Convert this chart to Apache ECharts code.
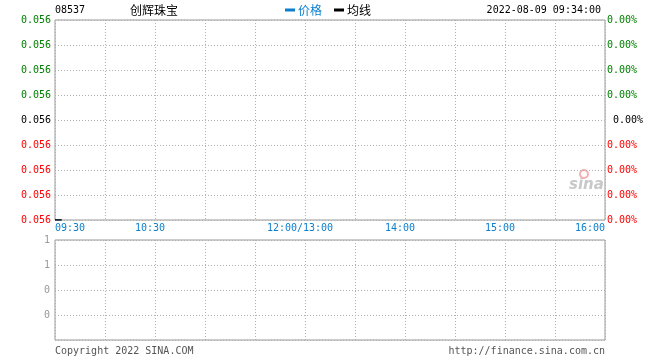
<!DOCTYPE html>
<html><head><meta charset="utf-8">
<script src="https://cdn.jsdelivr.net/npm/echarts@6/dist/echarts.min.js"></script>
<style>html,body{margin:0;padding:0;background:#fff}#c{width:660px;height:360px}</style>
</head><body><div id="c"></div>
<script>
// ---- data ----
const stockCode = '08537';
const stockName = '创辉珠宝';
const timestamp = '2022-08-09 09:34:00';
const minutes = [0, 1, 2, 3, 4];               // minutes since 09:30
const price = [0.056, 0.056, 0.056, 0.056, 0.056];
const avgPrice = [0.056, 0.056, 0.056, 0.056, 0.056];
const timeTicks = [0, 60, 150, 210, 270, 330];
const timeLabels = ['09:30', '10:30', '12:00/13:00', '14:00', '15:00', '16:00'];
const leftLabels = ['0.056','0.056','0.056','0.056','0.056','0.056','0.056','0.056','0.056']; // bottom -> top
const rightLabels = ['0.00%','0.00%','0.00%','0.00%',' 0.00%','0.00%','0.00%','0.00%','0.00%'];
const volLabels = ['', '0', '0', '1', '1']; // bottom -> top

const mono = 'DejaVu Sans Mono';
const grid = '#999', dot = '#b0b0b0';
function levelColor(i){ return i < 4 ? '#ff0000' : (i === 4 ? '#000000' : '#008000'); }

const chart = echarts.init(document.getElementById('c'));
chart.setOption({
  animation: false,
  backgroundColor: '#fff',
  title: [
    {text: stockCode, left: 55, top: 5, padding: 0, textStyle: {fontFamily: mono, fontSize: 10, fontWeight: 'normal', color: '#000'}},
    {text: stockName, left: 130, top: 4, padding: 0, textStyle: {fontFamily: 'Noto Sans CJK SC', fontSize: 12, fontWeight: 'normal', color: '#000'}},
    {text: timestamp, right: 59, top: 5, padding: 0, textStyle: {fontFamily: mono, fontSize: 10, fontWeight: 'normal', color: '#000'}},
    {text: 'Copyright 2022 SINA.COM', left: 55, top: 346, padding: 0, textStyle: {fontFamily: mono, fontSize: 10, fontWeight: 'normal', color: '#555'}},
    {text: 'http://finance.sina.com.cn', right: 55, top: 346, padding: 0, textStyle: {fontFamily: mono, fontSize: 10, fontWeight: 'normal', color: '#555'}}
  ],
  legend: {
    left: 285, top: 4, padding: 0, itemGap: 12, itemWidth: 10, itemHeight: 3, icon: 'rect',
    selectedMode: false,
    textStyle: {fontFamily: 'Noto Sans CJK SC', fontSize: 12, padding: [0,0,0,-2]},
    data: [{name: '价格', textStyle: {color: '#0b7fce'}}, {name: '均线', textStyle: {color: '#000'}}]
  },
  graphic: [{
    type: 'text', left: 569, top: 178, silent: true,
    style: {text: 'sina', fontFamily: 'DejaVu Sans', fontSize: 15, fontStyle: 'italic', fontWeight: 'bold', fill: '#c8c8c8'}
  }, {
    type: 'circle', shape: {cx: 584, cy: 174, r: 4}, silent: true,
    style: {fill: 'none', stroke: '#f5b0b0', lineWidth: 2}
  }],
  grid: [
    {left: 55, right: 55, top: 20, height: 200, show: true, borderColor: grid, borderWidth: 1, backgroundColor: 'transparent'},
    {left: 55, right: 55, top: 240, height: 100, show: true, borderColor: grid, borderWidth: 1, backgroundColor: 'transparent'}
  ],
  xAxis: [
    {type: 'value', gridIndex: 0, min: 0, max: 330, interval: 30,
     axisLine: {show: false}, axisTick: {show: false},
     splitLine: {show: true, lineStyle: {color: dot, type: [1, 2]}},
     axisLabel: {show: true, margin: 3, fontFamily: mono, fontSize: 10, color: '#0b7fce',
       alignMinLabel: 'left', alignMaxLabel: 'right',
       formatter: function(v){ const i = timeTicks.indexOf(v); if (i < 0) return ''; 
         if (i === 0 || i === timeTicks.length - 1) return timeLabels[i];
         return '{m|' + timeLabels[i] + '}'; },
       rich: {m: {fontFamily: mono, fontSize: 10, color: '#0b7fce', padding: [0, 10, 0, 0]}}
     }},
    {type: 'value', gridIndex: 1, min: 0, max: 330, interval: 30,
     axisLine: {show: false}, axisTick: {show: false}, axisLabel: {show: false},
     splitLine: {show: true, lineStyle: {color: dot, type: [1, 2]}}}
  ],
  yAxis: [
    {type: 'value', gridIndex: 0, min: 0.056, max: 0.0568, interval: 0.0001,
     axisLine: {show: false}, axisTick: {show: false},
     splitLine: {show: true, lineStyle: {color: dot, type: [1, 2]}},
     axisLabel: {margin: 4, fontFamily: mono, fontSize: 10,
       formatter: function(v, i){ return leftLabels[i] || ''; },
       color: function(v, i){ return levelColor(i); }}},
    {type: 'value', gridIndex: 0, position: 'right', min: 0, max: 8, interval: 1,
     axisLine: {show: false}, axisTick: {show: false}, splitLine: {show: false},
     axisLabel: {margin: 2, fontFamily: mono, fontSize: 10,
       formatter: function(v, i){ return rightLabels[i] || ''; },
       color: function(v, i){ return levelColor(i); }}},
    {type: 'value', gridIndex: 1, min: 0, max: 1, interval: 0.25,
     axisLine: {show: false}, axisTick: {show: false},
     splitLine: {show: true, lineStyle: {color: dot, type: [1, 2]}},
     axisLabel: {margin: 5, fontFamily: mono, fontSize: 10, color: '#999',
       formatter: function(v, i){ return volLabels[i] || ''; }}}
  ],
  series: [
    {name: '价格', type: 'line', xAxisIndex: 0, yAxisIndex: 0, showSymbol: false, symbol: 'none',
     lineStyle: {color: '#0b7fce', width: 1}, itemStyle: {color: '#0b7fce'},
     data: minutes.map((m, i) => [m, price[i]])},
    {name: '均线', type: 'line', xAxisIndex: 0, yAxisIndex: 0, showSymbol: false, symbol: 'none',
     lineStyle: {color: '#000', width: 1.5}, itemStyle: {color: '#000'}, z: 3,
     data: minutes.map((m, i) => [m, avgPrice[i]])}
  ]
});
</script></body></html>
